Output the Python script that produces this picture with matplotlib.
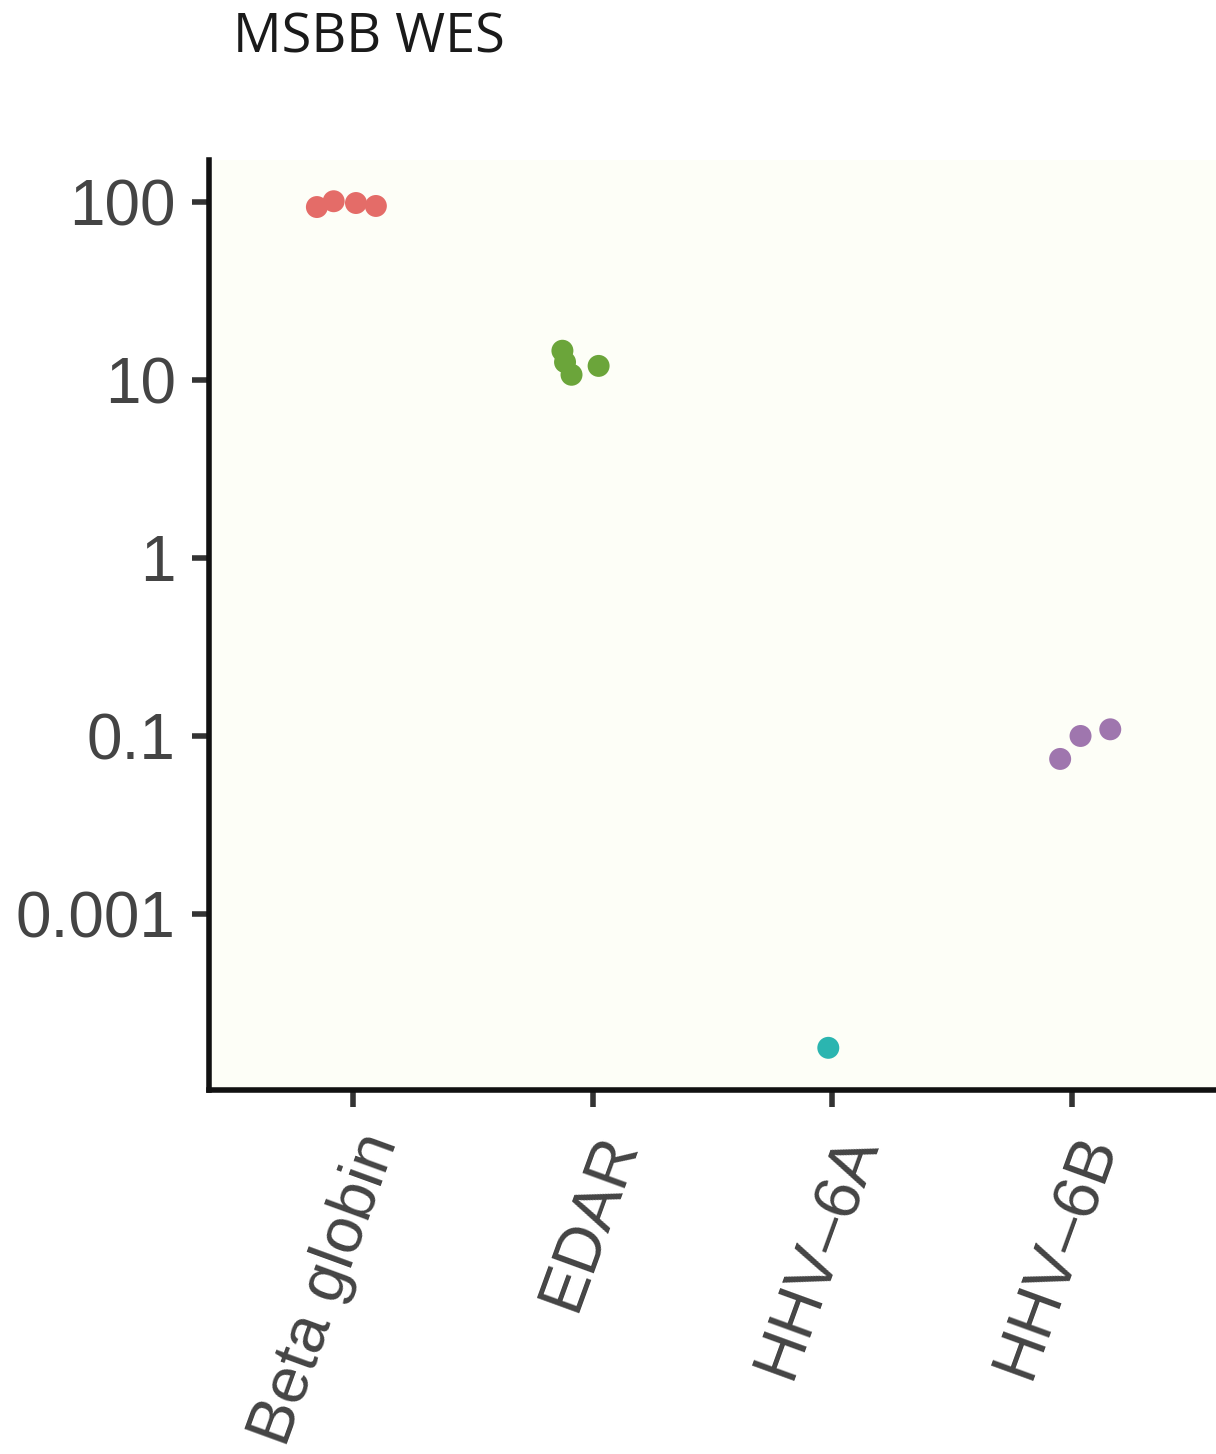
import matplotlib
matplotlib.use("Agg")
import matplotlib.pyplot as plt
import numpy as np

# ---- data ----
categories = ["Beta globin", "EDAR", "HHV\u20136A", "HHV\u20136B"]
colors = ["#E46C68", "#6BA53A", "#2BB5B0", "#9F76AE"]
# jittered x offsets (category units) and values
beta_x = [-0.15, -0.08, 0.013, 0.096]
beta_y = [93.7, 101.0, 98.7, 95.0]
edar_x = [-0.126, -0.115, -0.088, 0.025]
edar_y = [14.6, 12.6, 10.7, 12.0]
hhv6a_x = [-0.017]
hhv6a_y = [0.00177]
hhv6b_x = [-0.05, 0.035, 0.159]
hhv6b_y = [0.0743, 0.100, 0.109]
ytick_vals = [100, 10, 1, 0.1, 0.01]
ytick_labels = ["100", "10", "1", "0.1", "0.001"]

series_x = [beta_x, edar_x, hhv6a_x, hhv6b_x]
series_y = [beta_y, edar_y, hhv6a_y, hhv6b_y]

W, H = 1216, 1454
fig = plt.figure(figsize=(W / 100, H / 100), dpi=100)
ax = fig.add_axes([209 / W, 1 - 1090 / H, 1 - 209 / W, (1090 - 160) / H])
ax.set_facecolor("#FDFEF7")

for i, (xs, ys) in enumerate(zip(series_x, series_y)):
    ax.scatter(np.array(xs) + i + 1, ys, s=250, color=colors[i], edgecolors="none", zorder=3)

ax.set_yscale("log")
ax.set_ylim(10 ** -2.989, 10 ** 2.236)
ax.set_xlim(0.4, 4.6)
ax.set_yticks(ytick_vals)
ax.set_yticklabels(ytick_labels)
ax.yaxis.set_minor_locator(matplotlib.ticker.NullLocator())
ax.set_xticks([1, 2, 3, 4])
ax.set_xticklabels(categories, rotation=70, ha="right", va="top", rotation_mode="anchor")

for side in ["top", "right"]:
    ax.spines[side].set_visible(False)
for side in ["left", "bottom"]:
    ax.spines[side].set_linewidth(4)
    ax.spines[side].set_color("#111111")

ax.tick_params(axis="both", length=12, width=4, color="#333333", labelcolor="#444444")
ax.tick_params(axis="y", labelsize=46, pad=12)
ax.tick_params(axis="x", labelsize=47, pad=14)
for lab in ax.get_xticklabels() + ax.get_yticklabels():
    lab.set_family("Liberation Sans")

fig.text(233 / W, 1 - 38 / H, "MSBB WES", fontsize=39, family="Open Sans",
         color="#1a1a1a", va="center", ha="left")

fig.savefig("out.png", dpi=100, facecolor="white")
